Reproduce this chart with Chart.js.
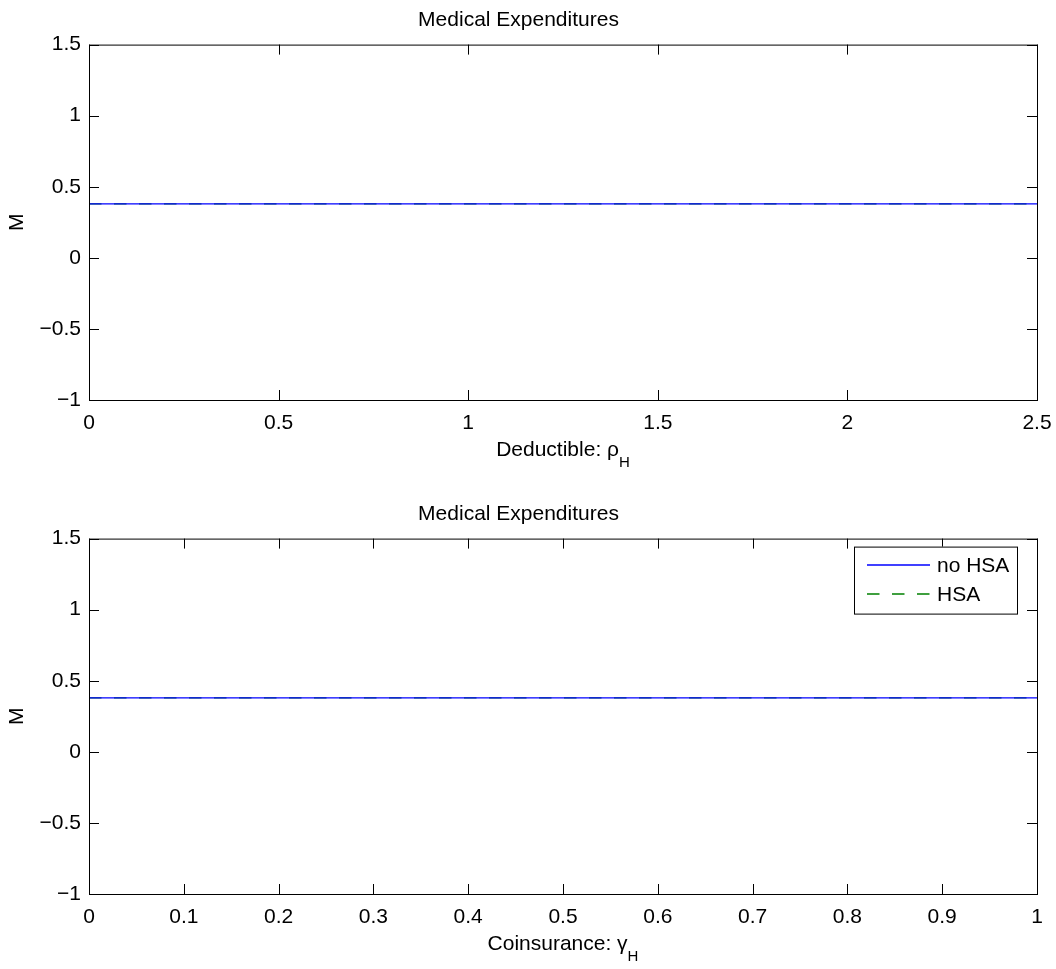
<!DOCTYPE html>
<html>
<head>
<meta charset="utf-8">
<script src="https://cdn.jsdelivr.net/npm/chart.js@4"></script>
<style>
  body { margin: 0; background: #fff; }
  #wrap { position: relative; width: 1056px; height: 969px; background: #fff; }
  .pane { position: absolute; left: 0; width: 1056px; }
  .xl { position: absolute; left: 89px; width: 948px; text-align: center;
        font: 21px "Liberation Sans", Arial, Helvetica, sans-serif; line-height: 21px; color: #000; }
  .xl .sub { position: relative; top: 11px; font-size: 15px; }
</style>
</head>
<body>
<div id="wrap">
  <div class="pane" style="top:0;height:480px"><canvas id="topChart"></canvas></div>
  <div class="pane" style="top:480px;height:489px"><canvas id="bottomChart"></canvas></div>
  <div class="xl" style="top:438px">Deductible: ρ<span class="sub">H</span></div>
  <div class="xl" style="top:932px">Coinsurance: γ<span class="sub">H</span></div>
</div>
<script>
// data
const deductible = [0, 0.25, 0.5, 0.75, 1, 1.25, 1.5, 1.75, 2, 2.25, 2.5];
const dedNoHsa   = [0.38, 0.38, 0.38, 0.38, 0.38, 0.38, 0.38, 0.38, 0.38, 0.38, 0.38];
const dedHsa     = [0.38, 0.38, 0.38, 0.38, 0.38, 0.38, 0.38, 0.38, 0.38, 0.38, 0.38];

const coinsurance = [0, 0.1, 0.2, 0.3, 0.4, 0.5, 0.6, 0.7, 0.8, 0.9, 1];
const coinsNoHsa  = [0.38, 0.38, 0.38, 0.38, 0.38, 0.38, 0.38, 0.38, 0.38, 0.38, 0.38];
const coinsHsa    = [0.38, 0.38, 0.38, 0.38, 0.38, 0.38, 0.38, 0.38, 0.38, 0.38, 0.38];

const dedTicks     = [0, 0.5, 1, 1.5, 2, 2.5];
const dedLabels    = ['0', '0.5', '1', '1.5', '2', '2.5'];
const coinsTicks   = [0, 0.1, 0.2, 0.3, 0.4, 0.5, 0.6, 0.7, 0.8, 0.9, 1];
const coinsLabels  = ['0', '0.1', '0.2', '0.3', '0.4', '0.5', '0.6', '0.7', '0.8', '0.9', '1'];
const mTicks       = [-1, -0.5, 0, 0.5, 1, 1.5];
const mLabels      = ['\u22121', '\u22120.5', '0', '0.5', '1', '1.5'];

const FONT = '"Liberation Sans", Arial, Helvetica, sans-serif';
Chart.defaults.font.family = FONT;
Chart.defaults.font.size = 21;
Chart.defaults.color = '#000';

function points(xs, ys) {
  return xs.map((x, i) => ({ x: x, y: ys[i] }));
}

// box round the axes with inward ticks on all four sides
const axesBox = {
  id: 'axesBox',
  afterDatasetsDraw(chart) {
    const { ctx, chartArea: a, scales: { x, y } } = chart;
    ctx.save();
    ctx.strokeStyle = '#000';
    ctx.lineWidth = 1;
    ctx.beginPath();
    x.ticks.forEach(t => {
      const px = Math.round(x.getPixelForValue(t.value)) + 0.5;
      ctx.moveTo(px, a.bottom); ctx.lineTo(px, a.bottom - 10);
      ctx.moveTo(px, a.top); ctx.lineTo(px, a.top + 10);
    });
    y.ticks.forEach(t => {
      const py = Math.round(y.getPixelForValue(t.value)) + 0.5;
      ctx.moveTo(a.left, py); ctx.lineTo(a.left + 10, py);
      ctx.moveTo(a.right, py); ctx.lineTo(a.right - 10, py);
    });
    ctx.stroke();
    ctx.strokeRect(a.left + 0.5, a.top + 0.5, a.right - a.left, a.bottom - a.top);
    ctx.restore();
  }
};

// matlab style legend box in the upper right of the axes
const boxLegend = {
  id: 'boxLegend',
  afterDraw(chart) {
    const { ctx, chartArea: a } = chart;
    const w = 163, h = 67;
    const left = a.right - 20 - w, top = a.top + 8;
    ctx.save();
    ctx.fillStyle = '#fff';
    ctx.fillRect(left, top, w, h);
    ctx.strokeStyle = '#000';
    ctx.lineWidth = 1;
    ctx.strokeRect(left + 0.5, top + 0.5, w, h);
    chart.data.datasets.forEach((ds, i) => {
      const yy = Math.round(top + 18 + i * 29);
      ctx.beginPath();
      ctx.strokeStyle = ds.borderColor;
      ctx.lineWidth = 1.3;
      ctx.setLineDash(ds.borderDash || []);
      ctx.moveTo(left + 13, yy);
      ctx.lineTo(left + 76, yy);
      ctx.stroke();
      ctx.setLineDash([]);
      ctx.fillStyle = '#000';
      ctx.font = '21px ' + FONT;
      ctx.textBaseline = 'middle';
      ctx.fillText(ds.label, left + 83, yy + 1);
    });
    ctx.restore();
  }
};

function makeChart(id, xs, noHsa, hsa, xTicks, xLabels, xMax, opts) {
  return new Chart(document.getElementById(id), {
    type: 'line',
    data: {
      datasets: [{
        label: 'no HSA',
        data: points(xs, noHsa),
        borderColor: '#0000ff',
        borderWidth: 1.2,
        pointRadius: 0,
        fill: false
      }, {
        label: 'HSA',
        data: points(xs, hsa),
        borderColor: '#008000',
        borderWidth: 1.2,
        borderDash: [12.5, 12.5],
        pointRadius: 0,
        fill: false
      }]
    },
    options: {
      responsive: true,
      maintainAspectRatio: false,
      animation: false,
      devicePixelRatio: 1,
      layout: { padding: { left: 0, right: 19, top: opts.padTop, bottom: 0 } },
      plugins: {
        legend: { display: false },
        tooltip: { enabled: false },
        title: {
          display: true,
          text: 'Medical Expenditures',
          font: { size: 21, weight: 'normal' },
          color: '#000',
          padding: { top: 8, bottom: 11.4 }
        }
      },
      scales: {
        x: {
          type: 'linear',
          min: 0,
          max: xMax,
          grid: { display: false, drawTicks: false },
          border: { display: false },
          afterBuildTicks: s => { s.ticks = xTicks.map(v => ({ value: v })); },
          afterFit: s => {
            s.height = opts.xHeight;
            s.paddingLeft = 0;
            s.paddingRight = 0;
          },
          ticks: {
            autoSkip: false,
            maxRotation: 0,
            padding: 11,
            callback: (v, i) => xLabels[i]
          }
        },
        y: {
          type: 'linear',
          min: -1,
          max: 1.5,
          grid: { display: false, drawTicks: false },
          border: { display: false },
          afterBuildTicks: s => { s.ticks = mTicks.map(v => ({ value: v })); },
          afterFit: s => {
            s.width = 89;
            s.paddingTop = 0;
            s.paddingBottom = 0;
          },
          title: {
            display: true,
            text: 'M',
            font: { size: 21 },
            color: '#000',
            padding: { top: 5, bottom: 0 }
          },
          ticks: {
            padding: 8,
            callback: (v, i) => mLabels[i]
          }
        }
      }
    },
    plugins: opts.legend ? [axesBox, boxLegend] : [axesBox]
  });
}

makeChart('topChart', deductible, dedNoHsa, dedHsa, dedTicks, dedLabels, 2.5,
  { padTop: 0, xHeight: 80, legend: false });
makeChart('bottomChart', coinsurance, coinsNoHsa, coinsHsa, coinsTicks, coinsLabels, 1,
  { padTop: 14, xHeight: 75, legend: true });
</script>
</body>
</html>
